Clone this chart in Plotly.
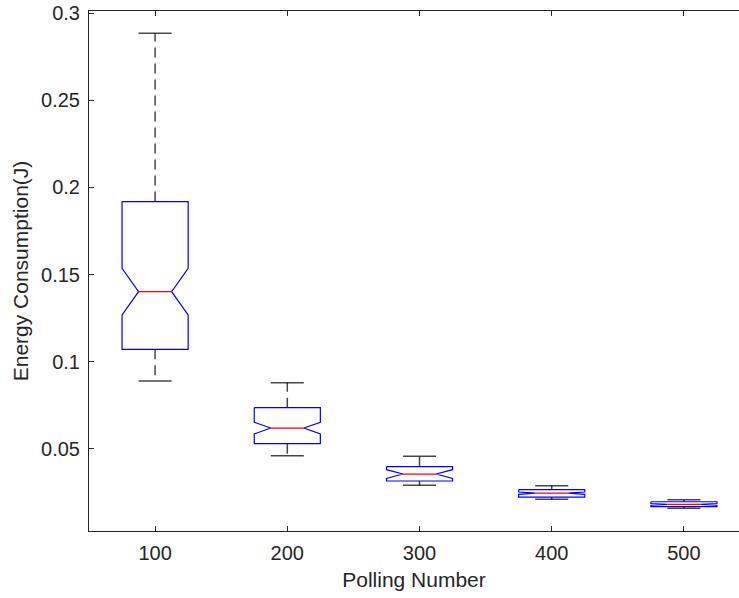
import plotly.graph_objects as go

# Data (notched box plot statistics)
categories = ["100", "200", "300", "400", "500"]
upper_whisker = [0.2885, 0.0879, 0.0457, 0.0288, 0.0208]
q3 = [0.1919, 0.0736, 0.0397, 0.0265, 0.0196]
notch_hi = [0.1536, 0.0652, 0.0380, 0.0252, 0.0186]
median = [0.1402, 0.0619, 0.0355, 0.0245, 0.0181]
notch_lo = [0.1268, 0.0585, 0.0330, 0.0238, 0.0176]
q1 = [0.1071, 0.0529, 0.0315, 0.0223, 0.0168]
lower_whisker = [0.0889, 0.0460, 0.0290, 0.0210, 0.0158]
y_ticks = [0.05, 0.1, 0.15, 0.2, 0.25, 0.3]
y_tick_text = ["0.05", "0.1", "0.15", "0.2", "0.25", "0.3"]

BOX_HALF = 0.25
CAP_HALF = 0.125
WHISKER_COLOR = "rgba(0,0,0,0.72)"
TEXT_COLOR = "#262626"

fig = go.Figure()

for i, cat in enumerate(categories):
    x = i + 1
    # whiskers (dashed)
    fig.add_trace(go.Scatter(
        x=[x, x, None, x, x],
        y=[q3[i], upper_whisker[i], None, q1[i], lower_whisker[i]],
        mode="lines", line=dict(color=WHISKER_COLOR, width=1.5, dash="10px,6px"),
        hoverinfo="skip", showlegend=False))
    # caps
    fig.add_trace(go.Scatter(
        x=[x - CAP_HALF, x + CAP_HALF, None, x - CAP_HALF, x + CAP_HALF],
        y=[upper_whisker[i], upper_whisker[i], None, lower_whisker[i], lower_whisker[i]],
        mode="lines", line=dict(color=WHISKER_COLOR, width=1.5),
        hoverinfo="skip", showlegend=False))
    # notched box outline
    bx = [x - BOX_HALF, x + BOX_HALF, x + BOX_HALF, x + BOX_HALF / 2, x + BOX_HALF,
          x + BOX_HALF, x - BOX_HALF, x - BOX_HALF, x - BOX_HALF / 2, x - BOX_HALF,
          x - BOX_HALF]
    by = [q3[i], q3[i], notch_hi[i], median[i], notch_lo[i],
          q1[i], q1[i], notch_lo[i], median[i], notch_hi[i], q3[i]]
    fig.add_trace(go.Scatter(
        x=bx, y=by, mode="lines", line=dict(color="#0000ff", width=1.2),
        hoverinfo="skip", showlegend=False))
    # median
    fig.add_trace(go.Scatter(
        x=[x - BOX_HALF / 2, x + BOX_HALF / 2], y=[median[i], median[i]],
        mode="lines", line=dict(color="#ff0000", width=1.2),
        hoverinfo="skip", showlegend=False))

font_family = "Liberation Sans, Arial, Helvetica, sans-serif"

fig.update_layout(
    width=739, height=598,
    margin=dict(l=89, r=0, t=11, b=67),
    paper_bgcolor="white", plot_bgcolor="white",
    font=dict(family=font_family, size=20, color=TEXT_COLOR),
    showlegend=False,
)

fig.update_xaxes(
    range=[0.5, 5.5 - 11 / 132.2],
    tickmode="array", tickvals=[1, 2, 3, 4, 5], ticktext=categories,
    showline=True, linecolor="#262626", linewidth=1, mirror="ticks",
    ticks="inside", ticklen=5, tickcolor="#262626",
    showgrid=False, zeroline=False,
    ticklabelstandoff=4,
    title=dict(text="Polling Number", font=dict(size=21, color=TEXT_COLOR), standoff=9),
)
fig.update_yaxes(
    range=[0.0028, 0.3013],
    tickmode="array", tickvals=y_ticks, ticktext=y_tick_text,
    showline=True, linecolor="#262626", linewidth=1, mirror=False,
    ticks="inside", ticklen=5, tickcolor="#262626",
    showgrid=False, zeroline=False,
    ticklabelstandoff=4,
    title=dict(text="Energy Consumption(J)", font=dict(size=21, color=TEXT_COLOR), standoff=6),
)

fig.write_html("out.html")
